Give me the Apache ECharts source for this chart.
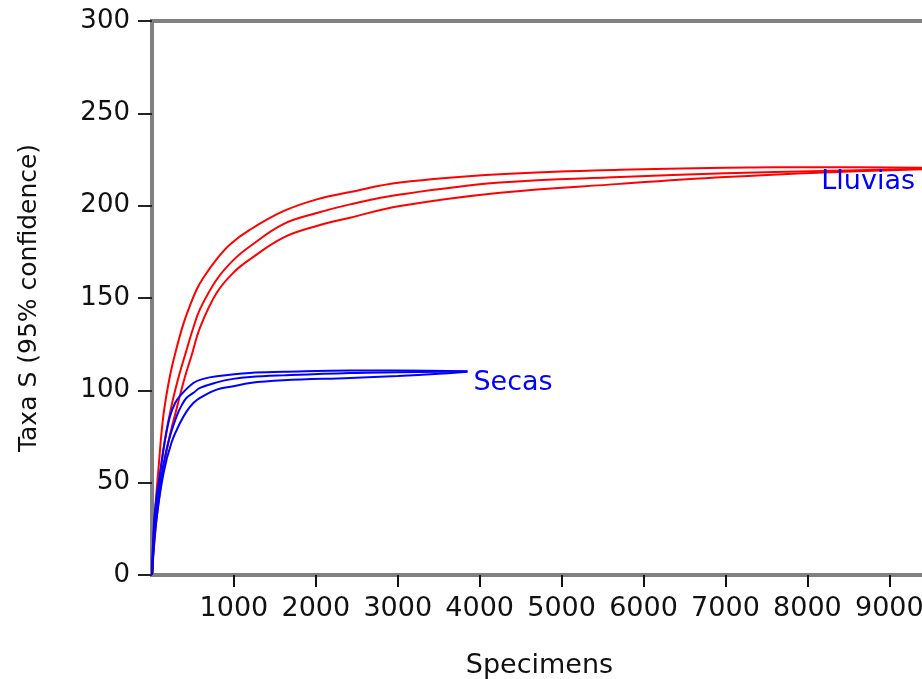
<!DOCTYPE html>
<html>
<head>
<meta charset="utf-8">
<script src="https://cdn.jsdelivr.net/npm/echarts@6/dist/echarts.min.js"></script>
<style>
  html, body { margin: 0; padding: 0; background: #fff; }
  #chart { width: 922px; height: 679px; }
</style>
</head>
<body>
<div id="chart"></div>
<script>
// x tick labels shown on the specimens axis
var xTicks = [1000, 2000, 3000, 4000, 5000, 6000, 7000, 8000, 9000];

// Lluvias rarefaction (upper 95%, mean, lower 95%) as [specimens, taxa]
var lluviasUpper = [[0,0],[30,30],[80,58],[138,86],[220,108],[301,123],[383,136],[464,146],[545,154.6],[627,161],[790,171],[952,179],[1197,187],[1603,197],[2011,203.4],[2418,207.4],[3028,212.5],[4249,217],[5714,219.4],[7000,220.5],[8200,220.8],[9460,220.5]];
var lluviasMean = [[0,0],[40,28],[100,55],[160,74],[240,92],[330,108],[423,122],[505,134],[586,144],[790,160],[993,170.5],[1197,178],[1603,190],[2011,196],[2418,200.7],[3028,206],[4249,212.5],[5714,215.5],[7000,217.5],[8200,218.8],[9460,220]];
var lluviasLower = [[0,0],[50,28],[120,52],[200,72],[300,90],[400,107],[484,119],[586,134],[790,152.8],[993,163.7],[1197,171],[1603,182.7],[2011,189],[2418,193.5],[3028,199.8],[4249,207],[5714,211.8],[7000,215.5],[8200,218],[9460,219.8]];

// Secas rarefaction (upper 95%, mean, lower 95%)
var secasUpper = [[0,0],[10,15],[37,35],[98,55],[159,73],[220,86],[281,93],[342,97],[505,104],[627,106.2],[790,107.6],[1197,109.4],[1603,110],[2418,110.8],[3000,110.8],[3850,110.3]];
var secasMean = [[0,0],[15,14],[50,33],[120,55],[200,72],[301,86],[363,92],[423,96],[505,98.6],[586,101.3],[790,104.3],[993,106.2],[1197,107.2],[1603,108.1],[2418,109.4],[3000,109.8],[3850,110.2]];
var secasLower = [[0,0],[20,14],[60,32],[140,55],[240,72],[342,82.3],[423,88.6],[505,93.1],[586,95.9],[790,100.4],[993,102.2],[1197,104],[1603,105.4],[2418,106.7],[3000,107.8],[3500,109],[3850,110]];

var font = 'DejaVu Sans';

function curve(data, color, endText, labelOpt) {
    var s = {
        type: 'line',
        data: data,
        showSymbol: false,
        smooth: 0.4,
        lineStyle: { color: color, width: 2 },
        emphasis: { disabled: true }
    };
    if (endText) {
        s.endLabel = Object.assign({
            show: true,
            formatter: endText,
            color: '#0000ff',
            fontFamily: font,
            fontSize: 27
        }, labelOpt);
    }
    return s;
}

var chart = echarts.init(document.getElementById('chart'));
var option = {
    animation: false,
    grid: {
        left: 152,
        top: 21,
        right: -5,
        bottom: 104,
        outerBoundsMode: 'none',
        containLabel: false,
        show: true,
        borderColor: '#808080',
        borderWidth: 4
    },
    xAxis: {
        type: 'value',
        min: 0,
        max: 9460,
        interval: 1000,
        name: 'Specimens',
        nameLocation: 'middle',
        nameGap: 77,
        nameTextStyle: { fontFamily: font, fontSize: 27, color: '#111' },
        splitLine: { show: false },
        axisLine: { lineStyle: { color: '#808080', width: 4 } },
        axisTick: {
            customValues: xTicks,
            length: 12,
            lineStyle: { color: '#111', width: 2 }
        },
        axisLabel: {
            customValues: xTicks,
            formatter: function (v) { return String(v); },
            margin: 20,
            fontFamily: font,
            fontSize: 27,
            color: '#111'
        }
    },
    yAxis: {
        type: 'value',
        min: 0,
        max: 300,
        interval: 50,
        name: 'Taxa S (95% confidence)',
        nameLocation: 'middle',
        nameGap: 110,
        nameTextStyle: { fontFamily: font, fontSize: 25, color: '#111' },
        splitLine: { show: false },
        axisLine: { lineStyle: { color: '#808080', width: 4 } },
        axisTick: { length: 14, lineStyle: { color: '#222', width: 2 } },
        axisLabel: {
            margin: 22,
            fontFamily: font,
            fontSize: 26,
            color: '#111'
        }
    },
    series: [
        curve(lluviasUpper, '#ff0000'),
        curve(lluviasMean, '#ff0000', 'Lluvias', { align: 'right', offset: [-20, 13] }),
        curve(lluviasLower, '#ff0000'),
        curve(secasUpper, '#0000ff'),
        curve(secasMean, '#0000ff', 'Secas', { distance: 6, offset: [0, 11] }),
        curve(secasLower, '#0000ff')
    ]
};
chart.setOption(option);
</script>
</body>
</html>
